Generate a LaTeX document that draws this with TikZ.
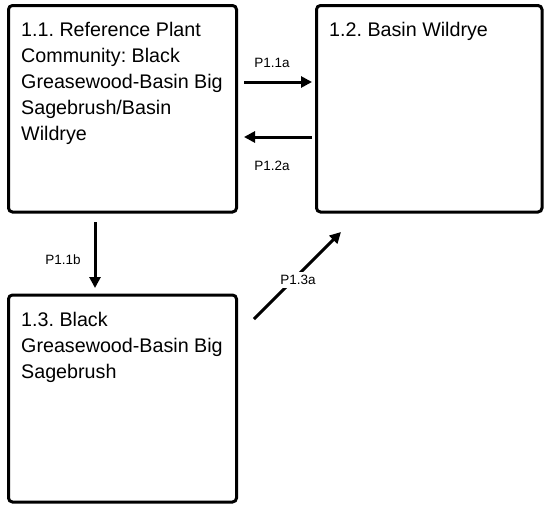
\documentclass[tikz,border=0pt]{standalone}
\usepackage{fontspec}
\setmainfont{Liberation Sans}
\usetikzlibrary{arrows.meta,calc}
\frenchspacing
\begin{document}
\begin{tikzpicture}[x=1pt,y=-1pt,
  statebox/.style={draw=black, line width=3pt, rounded corners=4pt, fill=white, inner sep=0pt},
  boxtext/.style={anchor=north west, align=left, inner sep=0pt, font=\fontsize{19.7}{26}\selectfont},
  arr/.style={line width=3pt, -{Triangle[length=11pt,width=11pt]}},
  lbl/.style={font=\fontsize{13.5}{16}\selectfont, inner sep=1pt}]
\useasboundingbox (0,0) rectangle (544,506);
% boxes
\node[statebox, minimum width=228pt, minimum height=206.5pt] (b11) at (122.5,108.75) {};
\node[statebox, minimum width=225.5pt, minimum height=206.5pt] (b12) at (429.25,108.75) {};
\node[statebox, minimum width=228pt, minimum height=207pt] (b13) at (122.5,398.5) {};
% texts
\node[boxtext] (t11) at (21,21.8) {1.1. Reference Plant\\Community: Black\\Greasewood-Basin Big\\Sagebrush/Basin\\Wildrye};
\node[boxtext] (t12) at (329,21.8) {1.2. Basin Wildrye};
\node[boxtext] (t13) at (21,311.8) {1.3. Black\\Greasewood-Basin Big\\Sagebrush};
% arrows
\draw[arr, shorten <=6pt, shorten >=3pt] (b11.east |- 0,82) -- (b12.west |- 0,82);
\draw[arr, shorten <=3pt, shorten >=6pt] (b12.west |- 0,137) -- (b11.east |- 0,137);
\draw[arr, shorten <=8.5pt, shorten >=5.5pt] (b11.south -| 95,0) -- (b13.north -| 95,0);
\draw[arr] ($(b13.north east)+(16,25.5)$) -- ($(b12.south west)+(26,18.5)$);
% labels
\node[lbl] (l11a) at (272,63) {P1.1a};
\node[lbl] (l12a) at (272,166) {P1.2a};
\node[lbl] (l11b) at (63,260) {P1.1b};
\node[lbl, fill=white, inner sep=3pt] (l13a) at (298,280) {P1.3a};
\end{tikzpicture}
\end{document}
